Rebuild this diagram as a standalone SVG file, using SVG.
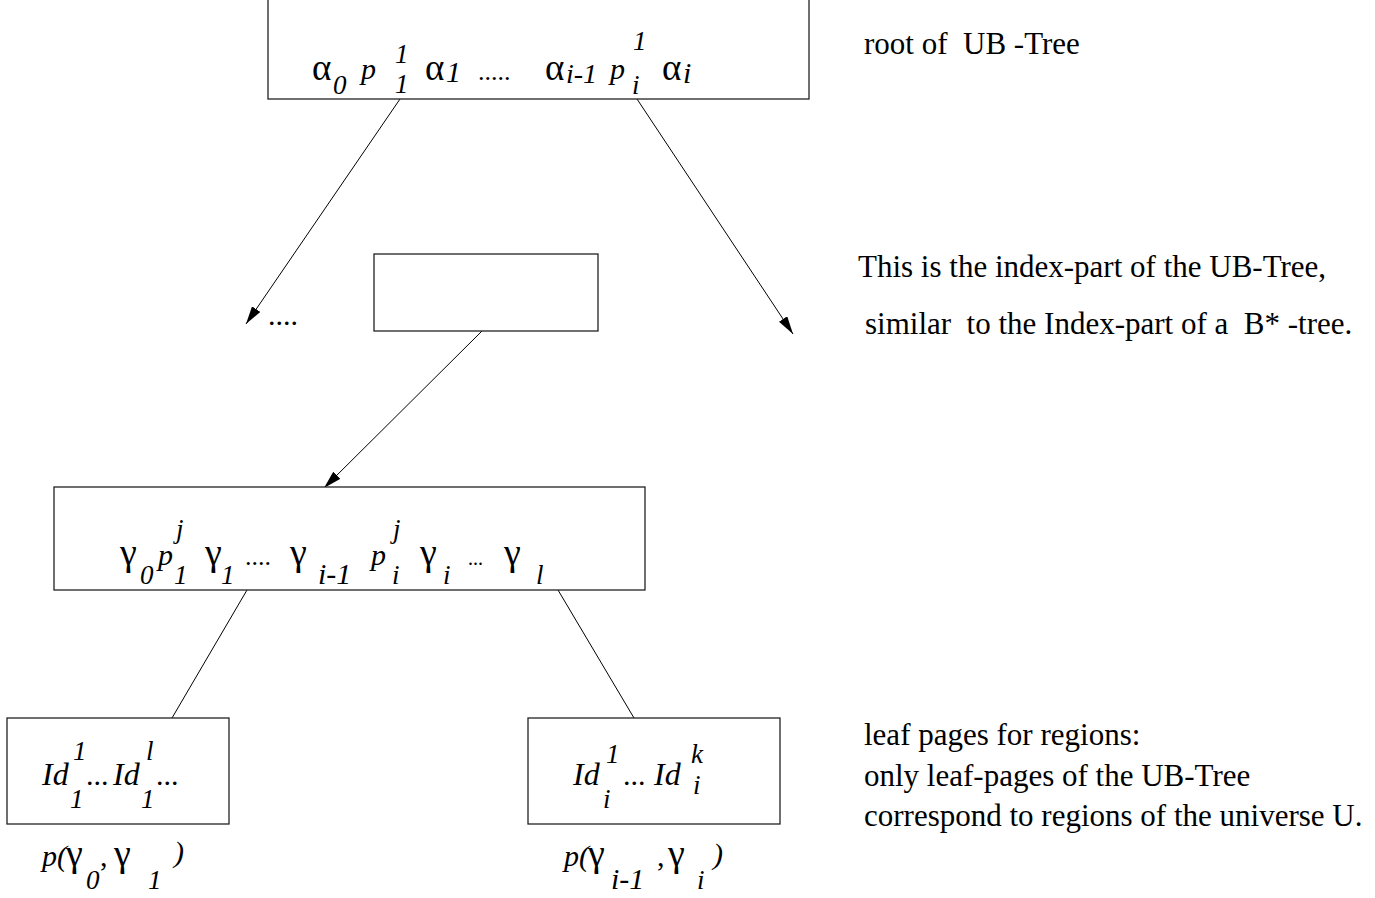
<svg xmlns="http://www.w3.org/2000/svg" width="1375" height="898" viewBox="0 0 1375 898">
  <defs>
    <style>
      .box { fill: #fff; stroke: #222; stroke-width: 1.3; }
      .edge { stroke: #000; stroke-width: 1; fill: none; }
      .note { font-family: "Liberation Serif", "Times New Roman", serif; font-size: 31px; fill: #000; white-space: pre; }
      .gr { font-family: "Liberation Serif", "Times New Roman", serif; fill: #000; }
      .it { font-family: "Liberation Serif", "Times New Roman", serif; font-style: italic; fill: #000; }
      .a { font-size: 37px; }
      .g { font-size: 38px; }
      .m { font-size: 30px; }
      .s { font-size: 27px; }
      .id { font-size: 32px; }
    </style>
    <marker id="arrow" viewBox="0 0 18 10" refX="18" refY="5" markerWidth="18" markerHeight="10" markerUnits="userSpaceOnUse" orient="auto">
      <path d="M0,0 L18,5 L0,10 Z" fill="#000"/>
    </marker>
  </defs>
  <rect width="1375" height="898" fill="#fff"/>

  <!-- connectors -->
  <g id="connectors">
    <line class="edge" x1="400" y1="99" x2="246" y2="324" marker-end="url(#arrow)"/>
    <line class="edge" x1="637" y1="99" x2="793" y2="334" marker-end="url(#arrow)"/>
    <line class="edge" x1="482" y1="331" x2="324" y2="488" marker-end="url(#arrow)"/>
    <line class="edge" x1="247" y1="590" x2="172" y2="718"/>
    <line class="edge" x1="558" y1="590" x2="634" y2="718"/>
  </g>

  <!-- root page -->
  <g id="root">
    <rect class="box" x="268" y="-4" width="541" height="103"/>
    <text class="gr a" x="312" y="80">α</text>
    <text class="it s" x="333" y="94">0</text>
    <text class="it m" x="361" y="79">p</text>
    <text class="it s" x="395" y="63">1</text>
    <text class="it s" x="395" y="93">1</text>
    <text class="gr a" x="425" y="80">α</text>
    <text class="it m" x="446" y="82">1</text>
    <text class="gr" font-size="26" x="478" y="80">.....</text>
    <text class="gr a" x="545" y="80">α</text>
    <text class="it" font-size="28" x="566" y="83">i-1</text>
    <text class="it m" x="610" y="79">p</text>
    <text class="it s" x="633" y="50">1</text>
    <text class="it s" x="632" y="94">i</text>
    <text class="gr a" x="662" y="80">α</text>
    <text class="it m" x="683" y="83">i</text>
  </g>

  <g id="ellipsis">
    <text class="gr m" x="268" y="325">....</text>
  </g>

  <!-- inner index page -->
  <g id="inner">
    <rect class="box" x="374" y="254" width="224" height="77"/>
  </g>

  <!-- index page with separators -->
  <g id="index">
    <rect class="box" x="54" y="487" width="591" height="103"/>
    <text class="gr g" x="120" y="565">γ</text>
    <text class="it s" x="140" y="584">0</text>
    <text class="it m" x="158" y="565">p</text>
    <text class="it s" x="176" y="538">j</text>
    <text class="it s" x="174" y="584">1</text>
    <text class="gr g" x="205" y="565">γ</text>
    <text class="it s" x="221" y="584">1</text>
    <text class="gr" font-size="26" x="245" y="565">....</text>
    <text class="gr g" x="290" y="565">γ</text>
    <text class="it m" x="318" y="584">i-1</text>
    <text class="it m" x="371" y="565">p</text>
    <text class="it s" x="393" y="538">j</text>
    <text class="it s" x="392" y="584">i</text>
    <text class="gr g" x="420" y="565">γ</text>
    <text class="it s" x="443" y="584">i</text>
    <text class="gr" font-size="20" x="468" y="565">...</text>
    <text class="gr g" x="504" y="565">γ</text>
    <text class="it s" x="536" y="584">l</text>
  </g>

  <!-- leaf page 1 -->
  <g id="leaf1">
    <rect class="box" x="7" y="718" width="222" height="106"/>
    <text class="it id" x="42" y="785">Id</text>
    <text class="it s" x="73" y="760">1</text>
    <text class="it s" x="70" y="808">1</text>
    <text class="gr m" x="86" y="785">...</text>
    <text class="it id" x="113" y="785">Id</text>
    <text class="it s" x="146" y="760">l</text>
    <text class="it s" x="141" y="808">1</text>
    <text class="gr m" x="156" y="785">...</text>
  </g>
  <g id="leaf1-label">
    <text class="it m" x="42" y="866">p(</text>
    <text class="gr g" x="66" y="866">γ</text>
    <text class="it s" x="86" y="889">0</text>
    <text class="gr m" x="100" y="866">,</text>
    <text class="gr g" x="114" y="866">γ</text>
    <text class="it s" x="148" y="889">1</text>
    <text class="it m" x="174" y="862">)</text>
  </g>

  <!-- leaf page 2 -->
  <g id="leaf2">
    <rect class="box" x="528" y="718" width="252" height="106"/>
    <text class="it id" x="573" y="785">Id</text>
    <text class="it s" x="606" y="763">1</text>
    <text class="it s" x="603" y="808">i</text>
    <text class="gr m" x="623" y="785">...</text>
    <text class="it id" x="654" y="785">Id</text>
    <text class="it s" x="691" y="763">k</text>
    <text class="it s" x="693" y="794">i</text>
  </g>
  <g id="leaf2-label">
    <text class="it m" x="564" y="866">p(</text>
    <text class="gr g" x="588" y="866">γ</text>
    <text class="it m" x="611" y="889">i-1</text>
    <text class="gr m" x="657" y="866">,</text>
    <text class="gr g" x="668" y="866">γ</text>
    <text class="it s" x="697" y="889">i</text>
    <text class="it m" x="713" y="864">)</text>
  </g>

  <!-- annotations -->
  <g id="notes">
    <text class="note" x="864" y="54">root of  UB -Tree</text>
    <text class="note" x="858" y="277">This is the index-part of the UB-Tree,</text>
    <text class="note" x="865" y="334">similar  to the Index-part of a  B* -tree.</text>
    <text class="note" x="864" y="745">leaf pages for regions:</text>
    <text class="note" x="864" y="786">only leaf-pages of the UB-Tree</text>
    <text class="note" x="864" y="826">correspond to regions of the universe U.</text>
  </g>
</svg>
